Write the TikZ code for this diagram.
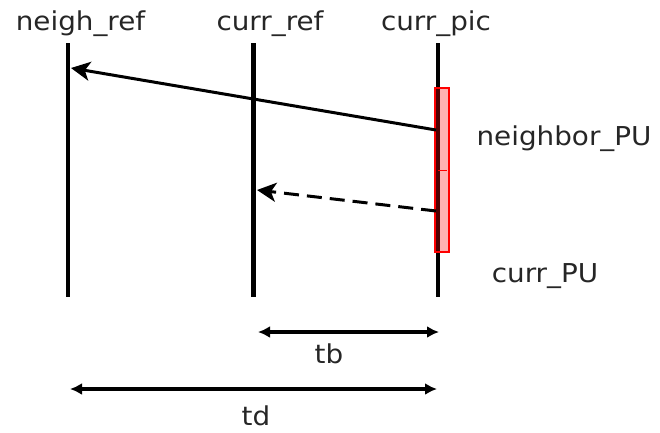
\documentclass[tikz,border=0pt]{standalone}
\usepackage{fontspec}
\setmainfont{DejaVu Sans}[FakeStretch=1.07]
\usetikzlibrary{arrows.meta}
\begin{document}
\begin{tikzpicture}[x=1pt,y=-1pt,
  lbl/.style={inner sep=0pt,anchor=base,text=black!85,font=\fontsize{26}{30}\selectfont},
  lifeline/.style={line width=4.2pt,black},
  msg/.style={line width=3pt,-{Stealth[length=19pt,width=19pt,inset=5pt]}},
  span/.style={line width=3.5pt,{Latex[length=12pt,width=12pt]}-{Latex[length=12pt,width=12pt]}},
  pubox/.style={draw=red,line width=2.2pt,fill=red,fill opacity=0.3}]
\useasboundingbox (0,0) rectangle (660,432);
% lifelines
\coordinate (nT) at (68,43);  \coordinate (nB) at (68,297);
\coordinate (rT) at (253.5,43); \coordinate (rB) at (253.5,297);
\coordinate (pT) at (438,43); \coordinate (pB) at (438,297);
\draw[lifeline] (nT) -- (nB);
\draw[lifeline] (rT) -- (rB);
\draw[lifeline] (pT) -- (pB);
% labels
\node[lbl] (lneigh) at (80.5,30) {neigh\_ref};
\node[lbl] (lcref) at (270,30) {curr\_ref};
\node[lbl] (lcpic) at (436,30) {curr\_pic};
% PU box
\node[pubox,minimum width=14pt,minimum height=164pt,inner sep=0pt] (pu) at (442,170) {};
\coordinate (tickL) at (438,170); \coordinate (tickR) at (447,170);
\draw[red,line width=1pt] (tickL) -- (tickR);
% messages
\coordinate (s1) at (436,130); \coordinate (e1) at (71,68);
\draw[msg] (s1) -- (e1);
\coordinate (s2) at (436,211); \coordinate (e2) at (257,190);
\draw[msg,dash pattern=on 15pt off 8pt] (s2) -- (e2);
\node[lbl] (nPU) at (564,145) {neighbor\_PU};
\node[lbl] (cPU) at (545,282) {curr\_PU};
% spans
\coordinate (tbL) at (258,332); \coordinate (tbR) at (439,332);
\draw[span] (tbL) -- (tbR);
\node[lbl] (tb) at (329,363) {tb};
\coordinate (tdL) at (70,389); \coordinate (tdR) at (437,389);
\draw[span] (tdL) -- (tdR);
\node[lbl] (td) at (256,425) {td};
\end{tikzpicture}
\end{document}
